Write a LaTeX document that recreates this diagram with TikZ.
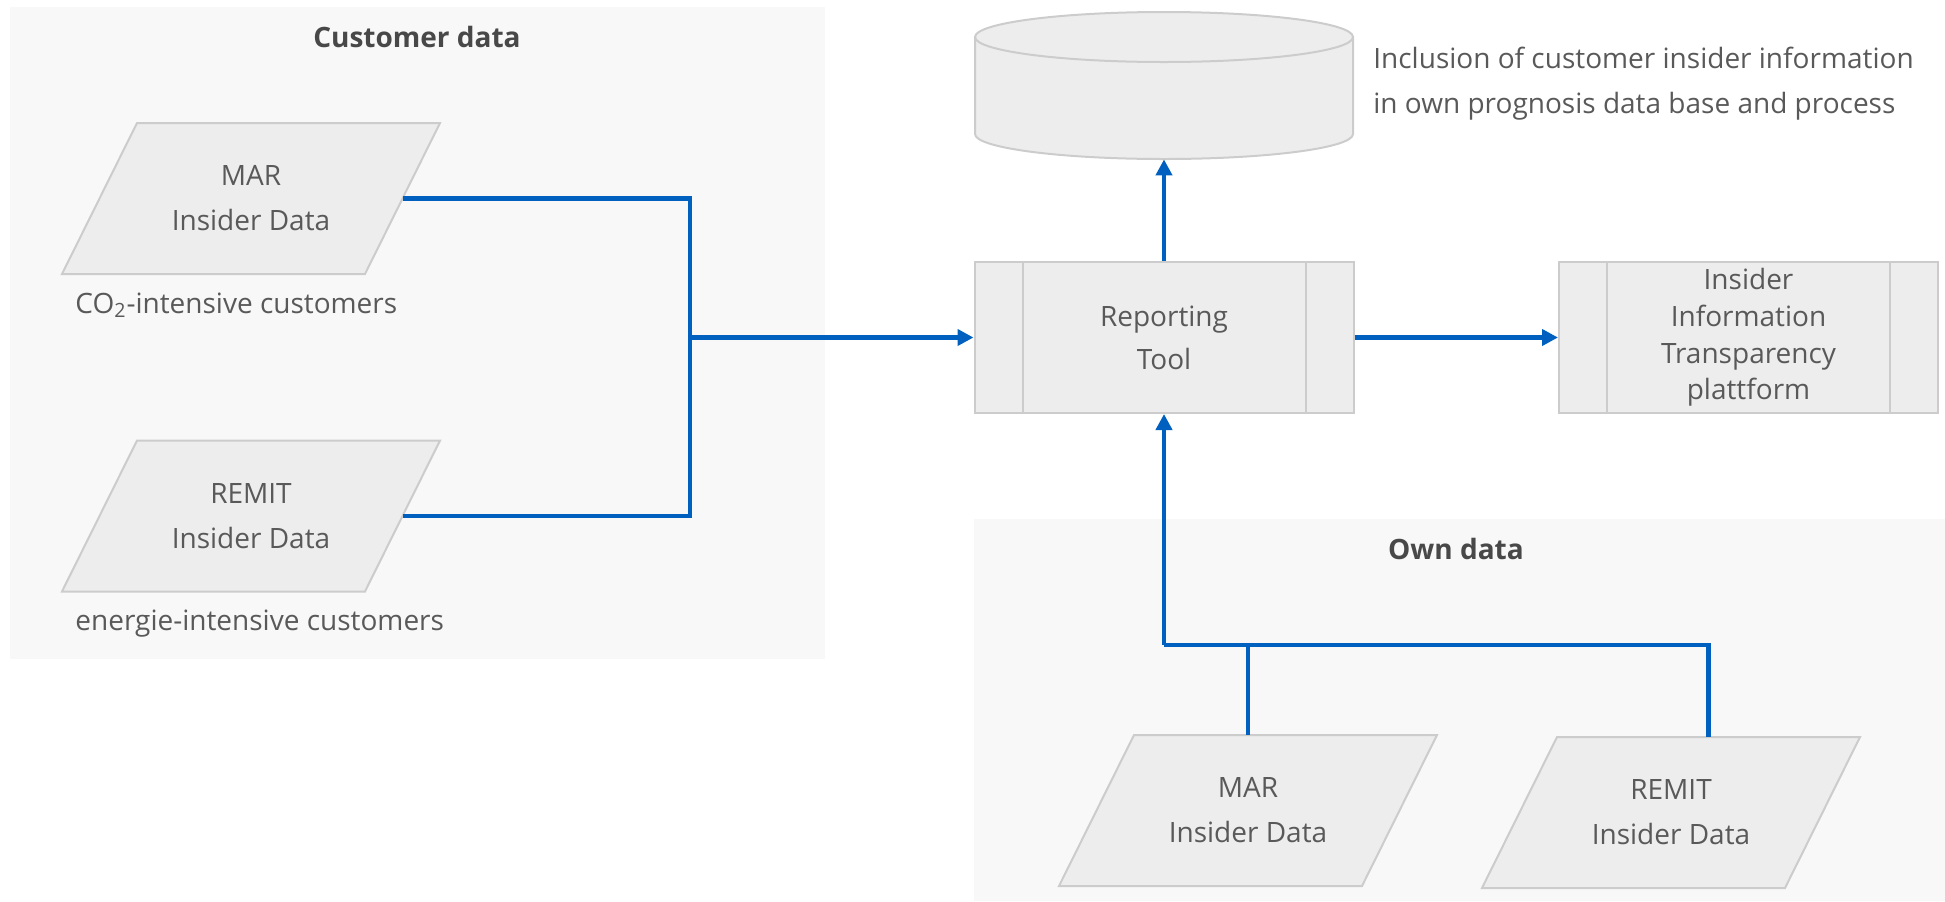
\documentclass[tikz,border=0pt]{standalone}
\usepackage{fontspec}
\setmainfont{Open Sans}
\usetikzlibrary{arrows.meta}

\definecolor{flowblue}{RGB}{0,96,192}
\definecolor{panelfill}{RGB}{248,248,248}
\definecolor{shapefill}{RGB}{237,237,237}
\definecolor{shapeline}{RGB}{204,204,204}
\definecolor{textgray}{RGB}{89,89,89}
\definecolor{titlegray}{RGB}{72,72,72}

\tikzset{
  panel/.style={fill=panelfill, draw=none},
  paneltitle/.style={text=titlegray, font=\fontsize{14}{17}\selectfont\bfseries},
  txt/.style={text=textgray, font=\fontsize{14}{22.5}\selectfont, align=center, inner sep=0pt},
  % slanted data shape: 189pt x 75.5pt parallelogram, top edge shifted right by 37.5pt,
  % drawn inside a slightly larger invisible rectangle
  databox/.style={rectangle, minimum width=192pt, minimum height=78.5pt, inner sep=0pt, txt,
    path picture={
      \filldraw[fill=shapefill, draw=shapeline, line width=1pt]
        ([xshift=39pt,yshift=-1.5pt]path picture bounding box.north west) --
        ([xshift=-1.5pt,yshift=-1.5pt]path picture bounding box.north east) --
        ([xshift=-39pt,yshift=1.5pt]path picture bounding box.south east) --
        ([xshift=1.5pt,yshift=1.5pt]path picture bounding box.south west) -- cycle;}},
  procbox/.style={rectangle, fill=shapefill, draw=shapeline, line width=1pt,
    minimum width=189.5pt, minimum height=75.5pt, inner sep=0pt, txt,
    path picture={
      \draw[shapeline, line width=1pt]
        ([xshift=24pt]path picture bounding box.north west) --
        ([xshift=24pt]path picture bounding box.south west)
        ([xshift=-24pt]path picture bounding box.north east) --
        ([xshift=-24pt]path picture bounding box.south east);}},
  cylbody/.style={fill=shapefill, draw=shapeline, line width=1pt},
  conn/.style={draw=flowblue, line width=2.4pt},
  arr/.style={conn, -{Triangle[length=8pt,width=8pt]}},
  note/.style={text=textgray, font=\fontsize{14}{22.5}\selectfont, inner sep=0pt, align=left}
}

\begin{document}
\begin{tikzpicture}[x=0.5pt,y=-0.5pt]
\useasboundingbox (0,0) rectangle (1945,901);

% background panels
\path[panel] (10,7) rectangle (825,659);
\path[panel] (974,519) rectangle (1945,901);
\node[paneltitle] (ctitle) at (417,37) {Customer data};
\node[paneltitle] (otitle) at (1456,549) {Own data};

% customer inputs
\node[databox] (mar1) at (251,198.5) {MAR\\Insider Data};
\node[databox] (remit1) at (251,516) {REMIT\\Insider Data};
\node[note, anchor=west] (co2) at (75,305) {CO\textsubscript{2}-intensive customers};
\node[note, anchor=west] (energie) at (75,624) {energie-intensive customers};

% own inputs
\node[databox] (mar2) at (1248,810.5) {MAR\\Insider Data};
\node[databox] (remit2) at (1671,812.5) {REMIT\\Insider Data};

% reporting tool and platform
\node[procbox, font=\fontsize{14}{21.5}\selectfont] (rep) at (1164,337.5) {Reporting\\Tool};
\node[procbox, font=\fontsize{14}{18.4}\selectfont] (plat) at (1748.5,337.5) {Insider\\Information\\Transparency\\plattform};

% prognosis data base (cylinder)
\node[minimum width=189pt, minimum height=73.5pt, inner sep=0pt] (db) at (1164,85.5) {};
\filldraw[cylbody] (975,37) -- (975,134)
  arc[start angle=180, end angle=360, x radius=94.5pt, y radius=12.5pt]
  -- (1353,37)
  arc[start angle=0, end angle=180, x radius=94.5pt, y radius=12.5pt] -- cycle;
\draw[cylbody, fill=none] (975,37)
  arc[start angle=180, end angle=360, x radius=94.5pt, y radius=12.5pt];
\node[note, anchor=west] (incl) at (1373,83.5) {Inclusion of customer insider information\\in own prognosis data base and process};

% connectors
\coordinate (jc) at (690,337.5);
\coordinate (jo) at (1164,645);
\draw[conn] ([xshift=-20.25pt]mar1.east) -| (jc);
\draw[conn] ([xshift=-20.25pt]remit1.east) -| (jc);
\draw[arr] (jc) -- (rep.west);
\draw[arr] (rep.east) -- (plat.west);
\draw[arr] (rep.north) -- (db.south);
\draw[conn] ([xshift=18.75pt,yshift=-1.5pt]remit2.north) |- (jo);
\draw[conn] ([yshift=-1.5pt]mar2.north) -- (mar2.north |- jo);
\draw[arr] (jo) -- (rep.south);
\end{tikzpicture}
\end{document}
